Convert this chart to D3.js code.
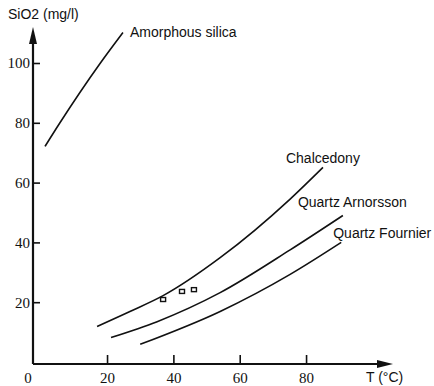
<!DOCTYPE html>
<html>
<head>
<meta charset="utf-8">
<script src="https://cdn.jsdelivr.net/npm/d3@7"></script>
<style>
  body { margin: 0; background: #fff; }
  svg { display: block; }
  .tick text, .num { font-family: "Times New Roman", "Liberation Serif", "DejaVu Serif", serif; font-size: 15px; }
  .lbl { font-family: Arial, "Liberation Sans", sans-serif; font-size: 14px; }
</style>
</head>
<body>
<svg id="chart"></svg>
<script>
// curves, [T in °C, SiO2 in mg/l]
const amorphousSilica = [[1.3, 72.1], [5.8, 80.0], [18.0, 100.0], [24.8, 110.2]];
const chalcedony = [[17.0, 11.9], [26.9, 16.9], [36.9, 22.2], [54.1, 34.9], [75.2, 54.5], [85.1, 65.1]];
const quartzArnorsson = [[21.2, 8.2], [35.1, 13.5], [54.1, 23.2], [75.2, 37.5], [91.1, 49.0]];
const quartzFournier = [[30.0, 5.9], [54.1, 16.9], [75.2, 29.3], [90.6, 40.0]];

// measured samples
const samples = [[36.9, 20.9], [42.6, 23.6], [46.2, 24.2]];

const xTicks = [20, 40, 60, 80];
const yTicks = [20, 40, 60, 80, 100];

const curves = [
    { name: 'Amorphous silica', points: amorphousSilica, dx: 7, dy: 0 },
    { name: 'Chalcedony', points: chalcedony, dx: -37, dy: -9 },
    { name: 'Quartz Arnorsson', points: quartzArnorsson, dx: -45, dy: -13 },
    { name: 'Quartz Fournier', points: quartzFournier, dx: -8, dy: -9 }
];

const width = 434, height = 386;
const originX = 33, originY = 364;

const svg = d3.select('#chart')
    .attr('width', width)
    .attr('height', height);

svg.append('rect')
    .attr('width', width)
    .attr('height', height)
    .attr('fill', '#fff');

const x = d3.scaleLinear().domain([0, 100]).range([40.7, 372.4]);
const y = d3.scaleLinear().domain([0, 100]).range([362, 63]);

// x axis
const xAxis = svg.append('g')
    .attr('transform', `translate(0, ${originY})`)
    .call(d3.axisBottom(x).tickValues(xTicks).tickSizeInner(-9).tickSizeOuter(0).tickPadding(8));
xAxis.select('.domain').remove();

// y axis
const yAxis = svg.append('g')
    .attr('transform', `translate(${originX}, 0)`)
    .call(d3.axisLeft(y).tickValues(yTicks).tickSizeInner(-7).tickSizeOuter(0).tickPadding(3));
yAxis.select('.domain').remove();

xAxis.attr('font-family', null).attr('font-size', null);
yAxis.attr('font-family', null).attr('font-size', null);

svg.selectAll('.tick line')
    .attr('stroke', '#111')
    .attr('stroke-width', 1.6);
svg.selectAll('.tick text')
    .attr('fill', '#111');

svg.append('text')
    .attr('class', 'num')
    .attr('x', originX - 5)
    .attr('y', originY + 8)
    .attr('dy', '0.71em')
    .attr('text-anchor', 'middle')
    .attr('fill', '#111')
    .text('0');

// axis lines with arrow heads
const xEnd = 393, yEnd = 27;
svg.append('line')
    .attr('x1', originX).attr('y1', originY)
    .attr('x2', xEnd - 10).attr('y2', originY)
    .attr('stroke', '#111').attr('stroke-width', 2);
svg.append('path')
    .attr('d', `M${xEnd},${originY} L${xEnd - 16},${originY - 4} L${xEnd - 16},${originY + 4} Z`)
    .attr('fill', '#111');

svg.append('line')
    .attr('x1', originX).attr('y1', originY)
    .attr('x2', originX).attr('y2', yEnd + 10)
    .attr('stroke', '#111').attr('stroke-width', 2.2);
svg.append('path')
    .attr('d', `M${originX},${yEnd} L${originX - 4},${yEnd + 17} L${originX + 4},${yEnd + 17} Z`)
    .attr('fill', '#111');

// axis titles
svg.append('text')
    .attr('class', 'lbl')
    .attr('x', 8).attr('y', 14)
    .attr('dy', '0.35em')
    .attr('fill', '#111')
    .text('SiO2 (mg/l)');

svg.append('text')
    .attr('class', 'lbl')
    .attr('x', 366).attr('y', 377)
    .attr('dy', '0.35em')
    .attr('fill', '#111')
    .text('T (°C)');

// curves
const line = d3.line()
    .x(d => x(d[0]))
    .y(d => y(d[1]))
    .curve(d3.curveMonotoneX);

svg.selectAll('.curve')
    .data(curves)
    .enter()
    .append('path')
    .attr('class', 'curve')
    .attr('d', d => line(d.points))
    .attr('fill', 'none')
    .attr('stroke', '#111')
    .attr('stroke-width', 1.6);

svg.selectAll('.curve-label')
    .data(curves)
    .enter()
    .append('text')
    .attr('class', 'curve-label lbl')
    .attr('x', d => x(d.points[d.points.length - 1][0]) + d.dx)
    .attr('y', d => y(d.points[d.points.length - 1][1]) + d.dy)
    .attr('dy', '0.35em')
    .attr('fill', '#111')
    .text(d => d.name);

// sample squares
svg.selectAll('.sample')
    .data(samples)
    .enter()
    .append('rect')
    .attr('class', 'sample')
    .attr('x', d => x(d[0]) - 2.5)
    .attr('y', d => y(d[1]) - 2)
    .attr('width', 5)
    .attr('height', 4)
    .attr('fill', 'none')
    .attr('stroke', '#111')
    .attr('stroke-width', 1.4);
</script>
</body>
</html>
